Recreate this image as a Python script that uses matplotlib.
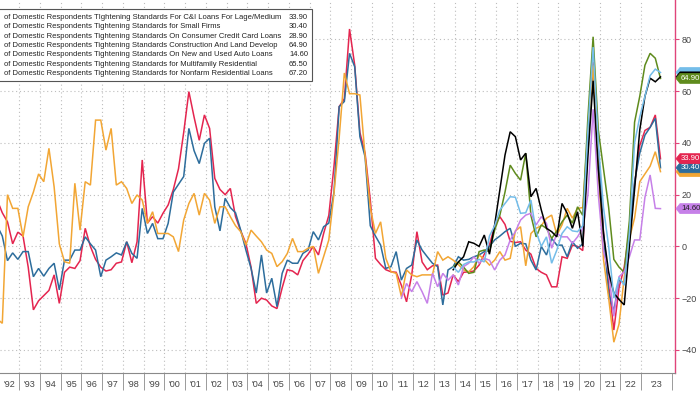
import numpy as np
import matplotlib
matplotlib.use("Agg")
import matplotlib.pyplot as plt
from matplotlib.patches import Rectangle, Polygon

# quarterly survey readings, net % of domestic respondents tightening
first_quarter = 1991.93      # date of the first plotted survey (Q4 1991)

ci_large = [18, 13, 9.5, 1, 5.5, 4, -8, -24.5, -21, -19,
            -17, -11, -22, -10, -8, -8.5, -5.5, 7, 0, -5,
            -8, -9.5, -9, -6.5, -6, 1.8, -6.3, 1.8, 33.4, 9,
            11.5, 9, 12.8, 16, 22, 30, 44, 59.8, 50, 41,
            50.8, 45.6, 26.3, 22, 20, 22.4, 11.5, 6, 1.2, -8,
            -22, -20, -20.7, -23, -24, -16, -9, -9.5, -11, -5.5,
            -3, 0, -3.3, 5, 12, 31, 54, 57, 84, 70,
            44, 36, 18, -4.6, -7, -9, -9.8, -10, -15, -21.4,
            -11, 5.7, -6, -9, -7.5, -7.2, -18.8, -18, -11, -13.6,
            -10, -9.8, -9.5, -7.2, -3, 0.5, 8, 11.5, 8.5, 2,
            1.5, 1.8, -1.4, -3, -8.5, -10, -11, -15.6, -15.6, -4,
            -4.6, 0.5, 0, -1.6, 41.5, 71.2, 37.7, 5.5, -15, -32.3,
            -16, -8, 6, 24, 39, 44.8, 46, 50.8, 33.9]

small_firms = [8, 4, -5.5, -2.5, -5, -2, -2, -11.7, -8.5, -11.5,
               -8.5, -6.5, -16.8, -5.3, -5.3, -1.4, -1.4, 3.7, 1, -1.4,
               -11.7, -5.3, -4, -2.5, -3.3, 1.8, -2.7, -4.6, 14.7, 5,
               8.9, 3, 3, 8.9, 21, 24, 27, 45.6, 37, 32,
               39.8, 41.8, 15.3, 6, 18.6, 15, 13, 6.3, -1.4, -8.5,
               -18, -3.3, -18, -12.3, -23.3, -10.4, -5.3, -6.5, -6.5, -2.7,
               -1.4, 5.7, 2.5, 7.6, 9, 21, 54, 56, 74.6, 69.4,
               42.4, 34.6, 8, 4, 0.5, -8.5, -7.8, -2, -13, -8.5,
               -7.2, 2.5, -1.4, -4, -6.5, -7.8, -22.6, -9.1, -7.8, -4,
               -5.3, -5, -4, -3.3, -2, 0, 2.5, 4, 5.7, 7,
               0, 1.2, 1, -5.3, -9.1, 0, -3.3, 3.1, 0.5, 0.5,
               -4, 1.8, -0.7, 1, 40, 70, 37, 5, -18, -25,
               -13, -14, 5, 25, 36, 43, 46, 49.5, 30.4]

credit_card = [-28, -29.7, 20, 14.7, 14.7, 3.7, 15.3, 21, 28, 25,
               37.9, 23, 1, -5.9, -6.5, 24.4, 6.3, 25, 23.7, 48.8,
               48.8, 37.2, 45.6, 23.7, 25, 22.4, 16.6, 19.9, 17.9, 8.9,
               13.4, 5, 5, 5, 3.7, -2, 10.2, 16.6, 20.5, 12.1,
               20.5, 17.9, 8.9, 15.3, 15.3, 11.5, 8, 5.7, 0.5, 6.3,
               4, 1.8, -1.4, -2.7, -7.8, -5.9, -2.7, 3.1, -2, -2,
               -0.7, 0, -10.4, -4, 2.5, 20.5, 42, 67, 59, 59,
               58.5, 35, 15, 5, 9.5, -4.6, -9.8, -10.4, -19.4, -9.1,
               -11, -11.7, -11, -11, -11, -2, -5.3, -4, -5.3, -7,
               -9.1, -9.8, -7.8, -3.3, -5, -7.2, -5.3, -2, -5.3, -4.6,
               6, 7.6, -7.5, 5, 7, 8, 10.9, 12.1, 4.4, 8.3,
               14.7, 10.9, 14.7, 15, 45, 70, 30, -5, -20, -37,
               -30, -12, 3, 11, 25, 28, 31, 36.6, 28.9]

# these start later (offset = quarters after first_quarter)
cre_start = 88
construction = [-8, -6,
                -8, -10.4, -10, -2, -1.4, -2, 6.3, 12, 21, 31.4,
                28.2, 25.6, 36, 12, 3.7, 8.3, 7, 3.1, 6, 9.5,
                12.1, 9, 15.3, 12, 50, 81, 45, 30, 15, -5,
                -8, -10, 10, 48, 58, 70, 74.6, 72.7, 64.9]
multifamily = [-9, -6,
               -4, 1.8, 1.2, 0, 4.4, -3, 8.3, 21.8, 35.3, 44.3,
               42.4, 33.4, 36, 19.2, 22.4, 14.1, 7, 5.7, 3.7, 16.6,
               12.8, 7, 13.4, 0, 35, 64, 30, 5, -10, -18,
               -20.5, -22.6, 0, 22, 45, 58, 65, 63.6, 65.5]
nonfarm = [-8, -10,
           -7, -6, -6, -5, -6, 4, 8, 14, 16.6, 19.2,
           19, 12.8, 13, 17.9, 5.7, 0, 3.7, -6.5, -1.4, 5,
           7.6, 6, 5.7, 8, 45, 77, 40, 15, 0, -20,
           -12, -15, 5, 40, 50, 58, 66, 68.5, 67.2]
auto_start = 78
auto_loans = [-20, -14.3,
              -17.5, -13.6, -17.5, -22, -10.4, -15.6, -10.4, -13, -11, -14.9,
              -7.8, -6.5, -4, -6.5, -4.6, -5.3, -9.1, -5.3, -3.3, 2.5,
              5.7, 10.2, 12.1, 12.8, 8.3, 11.5, 8.9, -0.7, 5, 3.7,
              3.7, 1.2, 3.7, 7, 20, 53, 20, -2, -10, -27,
              -11.7, -9.8, -4, 2.5, 2.5, 19, 27.6, 14.7, 14.6]

legend_labels = [
    "of Domestic Respondents TIghtening Standards For C&I Loans For Lage/Medium",
    "of Domestic Respondents Tightening Standards for Small Firms",
    "of Domestic Respondents Tightening Standards On Consumer Credit Card Loans",
    "of Domestic Respondents Tightening Standards Construction And Land Develop",
    "of Domestic Respondents Tightening Standards On New and Used Auto Loans",
    "of Domestic Respondents Tightening Standards for Multifamily Residential",
    "of Domestic Respondents Tightening Standards for Nonfarm Residential Loans",
]
last_values = [33.90, 30.40, 28.90, 64.90, 14.60, 65.50, 67.20]
year_labels = ["'%02d" % (y % 100) for y in range(1992, 2024)]

colors = ["#e4254f", "#2d6d9c", "#f2a634", "#5f8b1d", "#c680e8", "#000000", "#74bde9"]

series = [(0, ci_large), (0, small_firms), (0, credit_card), (cre_start, construction),
          (auto_start, auto_loans), (cre_start, multifamily), (cre_start, nonfarm)]

W, H = 700, 394
fig = plt.figure(figsize=(W / 100, H / 100), dpi=100)
ax_right, ax_bottom = 675, 373
ax = fig.add_axes([0, 1 - ax_bottom / H, ax_right / W, ax_bottom / H])

for (start, vals), col in zip(series, colors):
    t = first_quarter + 0.25 * (start + np.arange(len(vals)))
    ax.plot(t, vals, color=col, lw=1.1, solid_joinstyle="miter", zorder=3)

x_end = 2024.47
ax.set_xlim(1992.069, 2024.63)
ax.set_ylim(-48.9, 95.2)

# grid
for v in range(-40, 81, 20):
    ax.axhline(v, color="#bdbdbd", lw=0.8, ls=(0, (1, 2.5)), zorder=1)
for y in range(1993, 2024):
    ax.axvline(y, color="#bdbdbd", lw=0.8, ls=(0, (1, 2.5)), zorder=1)

# spines / axes
for s in ["left", "top"]:
    ax.spines[s].set_visible(False)
ax.spines["right"].set_color("#e0447a")
ax.spines["right"].set_linewidth(1.0)
ax.spines["bottom"].set_color("#8a8a8a")
ax.spines["bottom"].set_linewidth(0.8)

ax.yaxis.tick_right()
ax.set_yticks(range(-40, 81, 20))
ax.tick_params(axis="y", colors="#e0447a", length=3, width=0.8, pad=2, labelsize=6.5,
               labelcolor="#444444")

bounds = list(range(1992, 2024)) + [x_end]
ax.set_xticks(bounds[1:])
ax.set_xticklabels([])
ax.tick_params(axis="x", which="major", length=12, width=0.6, color="#8a8a8a", direction="out")
centers = [(a + b) / 2 for a, b in zip(bounds[:-1], bounds[1:])]
ax.set_xticks(centers, minor=True)
ax.set_xticklabels(year_labels, minor=True)
ax.tick_params(axis="x", which="minor", length=0, pad=5, labelsize=6.5, labelcolor="#444444")

for lab in ax.get_xticklabels(minor=True) + ax.get_yticklabels():
    lab.set_family("Liberation Sans")


# value tags on the right axis; tags hidden behind others get no text
def tag(value, col, show_text, text_color="white"):
    yp = ax.transData.transform((0, value))[1]
    x0, h = 676, 5
    pts = [(x0, yp), (x0 + 4, yp + h), (W + 3, yp + h), (W + 3, yp - h), (x0 + 4, yp - h)]
    fig.add_artist(Polygon(pts, closed=True, transform=None, fc=col, ec=col, lw=0.5,
                           zorder=6))
    if show_text:
        fig.text((x0 + 5) / W, yp / H, "%.2f" % value, ha="left", va="center",
                 fontsize=5.6, color=text_color, family="Liberation Sans", zorder=7)


tag(last_values[6], colors[6], False)
tag(last_values[5], colors[5], False)
tag(last_values[3], colors[3], True)
tag(last_values[2], colors[2], False)
tag(last_values[1], colors[1], True)
tag(last_values[0], colors[0], True)
tag(last_values[4], colors[4], True, "#222222")


# legend box, left side clipped by the figure edge
def fx(px):
    return px / ax_right


def fy(py):
    return 1 - py / ax_bottom


box_top, box_bot = 9, 81
ax.add_patch(Rectangle((fx(-10), fy(box_bot)), fx(322), fy(box_top) - fy(box_bot),
                       transform=ax.transAxes, fc="white", ec="#555555", lw=0.8,
                       clip_on=False, zorder=8))
for k, lab in enumerate(legend_labels):
    yy = fy(17.5 + 9.3 * k)
    ax.text(fx(4), yy, lab, transform=ax.transAxes, ha="left", va="center",
            fontsize=5.5, family="Liberation Sans", color="#222222", zorder=9)
    ax.text(fx(308), yy, "%.2f" % last_values[k], transform=ax.transAxes, ha="right",
            va="center", fontsize=5.5, family="Liberation Sans", color="#222222", zorder=9)

fig.savefig("out.png", dpi=100)
